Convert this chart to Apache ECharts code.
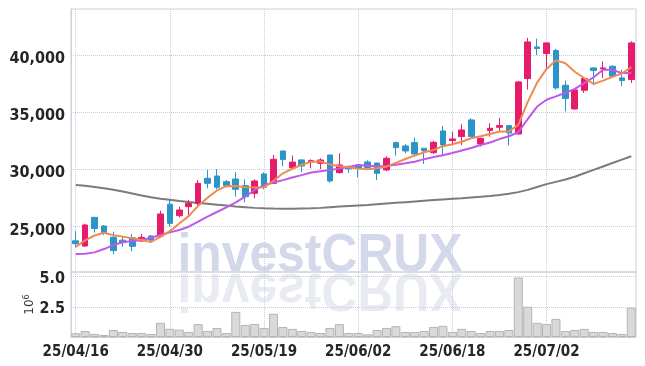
<!DOCTYPE html>
<html><head><meta charset="utf-8">
<script src="https://cdn.jsdelivr.net/npm/echarts@6/dist/echarts.min.js"></script>
<style>html,body{margin:0;padding:0;background:#fff}#c{width:645px;height:366px}</style>
</head><body><div id="c"></div>
<script>
const dates = ['25/04/16','25/04/17','25/04/18','25/04/21','25/04/22','25/04/23','25/04/24','25/04/25','25/04/28','25/04/29',
'25/04/30','25/05/02','25/05/07','25/05/08','25/05/09','25/05/12','25/05/13','25/05/14','25/05/15','25/05/16',
'25/05/19','25/05/20','25/05/21','25/05/22','25/05/23','25/05/26','25/05/27','25/05/28','25/05/29','25/05/30',
'25/06/02','25/06/04','25/06/05','25/06/09','25/06/10','25/06/11','25/06/12','25/06/13','25/06/16','25/06/17',
'25/06/18','25/06/19','25/06/20','25/06/23','25/06/24','25/06/25','25/06/26','25/06/27','25/06/30','25/07/01',
'25/07/02','25/07/03','25/07/04','25/07/07','25/07/08','25/07/09','25/07/10','25/07/11','25/07/14','25/07/15'];

const openP = [23730,23277,25790,25030,24050,23790,24000,23715,24154,24154,
26930,25936,26726,27018,29210,29415,28918,29152,28568,27895,
29591,28772,31608,30146,30819,30640,30526,31257,29707,30250,
30380,30640,30550,29942,32339,32046,32339,31842,31462,33362,
32514,32865,34326,32222,33391,33684,33830,33099,37951,40727,
40143,40406,37367,35291,36928,38886,38800,39033,38010,37864];
const closeP = [23480,25118,24810,24430,22880,23600,23250,24037,23803,26083,
25264,26433,27018,28772,28772,28421,28568,28246,27603,28977,
28421,30877,30850,30630,30292,30760,30819,28977,30380,30040,
30088,30160,29649,30965,31900,31608,31345,31637,32368,32134,
32660,33449,32865,32719,33595,33830,33187,37659,41166,40582,
41079,37133,36198,36957,37951,38653,38886,38156,37776,41079];
const lowP = [23160,23218,24460,24241,22546,23200,22820,23657,23700,24037,
24972,25790,25995,26726,28334,28246,28421,27603,27106,27457,
28246,28714,30292,30070,29750,30088,30010,28831,29649,29680,
29299,30070,29065,29830,31199,31403,31199,30468,31345,31257,
32134,32134,32806,31988,32865,33333,32100,33041,36986,39997,
38886,36986,35086,35232,36694,37367,38010,38068,37279,37571];
const highP = [24600,25230,25790,25118,24533,24150,24330,24330,24242,26375,
27369,26726,27310,29064,29941,30000,29064,29737,29123,29123,
29737,31257,31608,31210,30890,30877,30965,31257,31403,30340,
30380,30790,30550,31140,32426,32222,32777,31842,32514,33800,
33303,33946,34472,32777,34034,34502,33830,37718,41517,41459,
41079,40553,37776,36957,38068,38945,39471,39120,38741,41225];

const maShort = [23200,23780,24200,24440,24230,24100,23950,23800,23630,24080,
24580,25250,25900,26800,27500,28150,28520,28540,28420,28400,
28420,29000,29650,30050,30400,30650,30700,30420,30260,30180,
30060,30000,30090,30230,30570,30900,31200,31500,31700,32030,
32200,32420,32720,32890,33100,33320,33320,33900,35900,37600,
38800,39550,39300,38550,38000,37480,37770,38100,38400,38950];
const maMid = [22575,22600,22720,23010,23360,23600,23715,23800,24000,24240,
24475,24680,24970,25410,25850,26260,26670,27100,27600,28190,
28600,28850,29050,29280,29490,29720,29840,29940,30060,30200,
30380,30320,30260,30300,30400,30530,30670,30890,31070,31230,
31430,31650,31870,32130,32350,32650,32900,33250,34400,35500,
36100,36390,36710,37050,37550,38070,38720,38720,38430,38430];
const maLong = [28625,28550,28450,28340,28200,28050,27880,27700,27550,27420,
27330,27220,27130,27050,26980,26900,26820,26740,26680,26620,
26580,26560,26550,26540,26560,26580,26620,26680,26730,26780,
26830,26880,26940,27000,27060,27120,27180,27240,27300,27360,
27420,27470,27530,27590,27660,27750,27850,28000,28200,28450,
28700,28900,29100,29350,29650,29950,30250,30550,30850,31150];

const volumeM = [0.31,0.5,0.25,0.17,0.58,0.42,0.33,0.33,0.25,1.17,
0.67,0.61,0.42,1.06,0.5,0.75,0.33,2.08,1.0,1.08,
0.75,1.92,0.83,0.67,0.5,0.42,0.33,0.75,1.06,0.33,
0.33,0.22,0.58,0.75,0.89,0.42,0.42,0.5,0.83,0.92,
0.42,0.67,0.5,0.33,0.5,0.5,0.58,4.92,2.5,1.17,
1.08,1.5,0.5,0.58,0.67,0.42,0.42,0.33,0.25,2.42];

const candles = dates.map((d, i) => [openP[i], closeP[i], lowP[i], highP[i]]);

const FONT = "'Liberation Sans Narrow','DejaVu Sans Condensed',sans-serif";
const gridLine = { show: true, lineStyle: { color: '#c8cce0', type: 'dotted', width: 1 } };
const labelStyle = { color: '#262626', fontFamily: FONT, fontSize: 15, fontWeight: 'bold' };
const yRich = { v: { color: '#262626', fontFamily: FONT, fontSize: 16, fontWeight: 'bold', padding: [8, 0, 0, 0] } };

const chart = echarts.init(document.getElementById('c'), null, { renderer: 'canvas' });
chart.setOption({
  animation: false,
  backgroundColor: '#fff',
  graphic: [
    { type: 'text', z: 0, silent: true, x: 320, y: 256, scaleX: 0.94,
      style: { text: 'investCRUX', font: "bold 53px 'Liberation Sans', Arial, sans-serif", fill: '#d3d8ea', align: 'center', verticalAlign: 'middle' } },
    { type: 'text', z: 0, silent: true, x: 320, y: 289, scaleX: 0.94, scaleY: -1,
      style: { text: 'investCRUX', font: "bold 53px 'Liberation Sans', Arial, sans-serif", fill: '#e9ebf3', align: 'center', verticalAlign: 'middle' } }
  ],
  grid: [
    { left: 71, right: 9, top: 9, height: 263, show: true, borderColor: '#cfcfd6', borderWidth: 1, backgroundColor: 'transparent' },
    { left: 71, right: 9, top: 272, height: 65, show: true, borderColor: '#cfcfd6', borderWidth: 1, backgroundColor: 'transparent' }
  ],
  xAxis: [
    { type: 'category', gridIndex: 0, data: dates, boundaryGap: true,
      axisLine: { show: false }, axisTick: { show: false }, axisLabel: { show: false },
      splitLine: Object.assign({ interval: 9, alignWithLabel: true }, gridLine) },
    { type: 'category', gridIndex: 1, data: dates, boundaryGap: true,
      axisLine: { show: true, lineStyle: { color: '#cfcfd6' } }, axisTick: { show: false },
      axisLabel: Object.assign({ interval: 9, margin: 8 }, labelStyle),
      splitLine: Object.assign({ interval: 9, alignWithLabel: true }, gridLine) }
  ],
  yAxis: [
    { type: 'value', gridIndex: 0, min: 21000, max: 44050, splitNumber: 5,
      axisLine: { show: true, lineStyle: { color: '#cfcfd6' } }, axisTick: { show: false },
      axisLabel: { margin: 6, showMinLabel: false, showMaxLabel: false, rich: yRich,
        formatter: v => (v % 5000 === 0 ? '{v|' + v.toLocaleString('en-US') + '}' : '') },
      splitLine: Object.assign({ showMinLine: false, showMaxLine: false }, gridLine) },
    { type: 'value', gridIndex: 1, min: 0, max: 5.38, interval: 2.5,
      name: '{a|10}{b|6}', nameLocation: 'middle', nameGap: 34, nameRotate: 90, nameMoveOverlap: false,
      nameTextStyle: { rich: { a: { fontFamily: 'DejaVu Sans', fontSize: 12, color: '#333' }, b: { fontFamily: 'DejaVu Sans', fontSize: 8, color: '#333', verticalAlign: 'top', padding: [0,0,6,0] } } },
      axisLine: { show: true, lineStyle: { color: '#cfcfd6' } }, axisTick: { show: false },
      axisLabel: { margin: 6, showMinLabel: false, showMaxLabel: false, rich: { v: Object.assign({}, yRich.v, { padding: [4, 0, 0, 0] }) },
        formatter: v => (v === 0 ? '' : '{v|' + v.toFixed(1) + '}') },
      splitLine: Object.assign({ showMinLine: false, showMaxLine: false }, gridLine) }
  ],
  series: [
    { type: 'candlestick', name: 'price', xAxisIndex: 0, yAxisIndex: 0, data: candles, barWidth: '66%', z: 3,
      itemStyle: { color: '#e51b6b', color0: '#2b95c9', borderColor: '#e51b6b', borderColor0: '#2b95c9', borderWidth: 1 } },
    { type: 'line', name: 'MA long', xAxisIndex: 0, yAxisIndex: 0, data: maLong, showSymbol: false, z: 2,
      lineStyle: { color: '#7b7b7b', width: 2 } },
    { type: 'line', name: 'MA mid', xAxisIndex: 0, yAxisIndex: 0, data: maMid, showSymbol: false, z: 4,
      lineStyle: { color: '#c257ea', width: 2 } },
    { type: 'line', name: 'MA short', xAxisIndex: 0, yAxisIndex: 0, data: maShort, showSymbol: false, z: 5,
      lineStyle: { color: '#ef8a52', width: 2 } },
    { type: 'bar', name: 'volume', xAxisIndex: 1, yAxisIndex: 1, data: volumeM, barWidth: '96%',
      itemStyle: { color: '#d9d9d9', borderColor: '#b4b4b4', borderWidth: 1 } }
  ]
});
</script>
</body></html>
